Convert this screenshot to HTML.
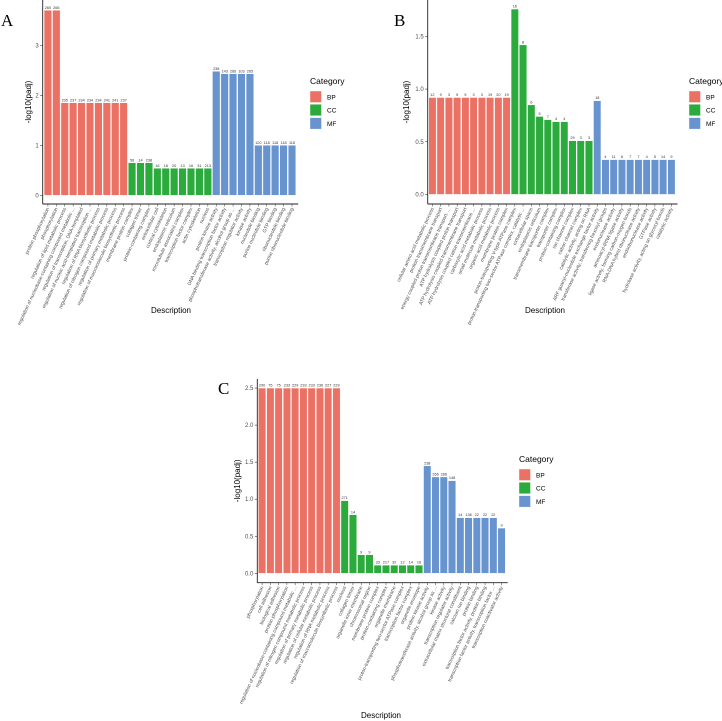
<!DOCTYPE html>
<html><head><meta charset="utf-8">
<style>
html,body{margin:0;padding:0;background:#fff;}
svg{display:block;font-family:"Liberation Sans",sans-serif;}
</style></head>
<body>
<svg id="fig" width="722" height="721" viewBox="0 0 722 721" xmlns="http://www.w3.org/2000/svg"></svg>
<script>
// ---------- Panel A data ----------
const aTerms = ["protein phosphorylation","phosphorylation","regulation of lipid metabolic process","regulation of nucleobase-containing compound metabolic ...","regulation of transcription, DNA-templated","regulation of nucleic acid-templated transcription ...","regulation of RNA biosynthetic process","regulation of nitrogen compound metabolic process","regulation of primary metabolic process","regulation of macromolecule biosynthetic process","membrane protein complex","collagen trimer","protein-containing complex","extracellular cell","cortical cytoskeleton","endoplasmic reticulum","microtubule associated complex","transcription factor complex","actin cytoskeleton","nucleus","protein kinase activity","DNA binding transcription factor activity","phosphotransferase activity, alcohol group as ...","transcription regulator activity","kinase activity","nucleotide binding","purine nucleotide binding","GTP binding","ribonucleotide binding","purine ribonucleotide binding"];
const aCats = ["BP","BP","BP","BP","BP","BP","BP","BP","BP","BP","CC","CC","CC","CC","CC","CC","CC","CC","CC","CC","MF","MF","MF","MF","MF","MF","MF","MF","MF","MF"];
const aValues = [3.7,3.7,1.85,1.85,1.85,1.85,1.85,1.85,1.85,1.85,0.65,0.65,0.65,0.54,0.54,0.54,0.54,0.54,0.54,0.54,2.48,2.43,2.43,2.43,2.43,1.0,1.0,1.0,1.0,1.0];
const aCounts = ["260","266","235","237","234","234","234","241","241","237","56","14","238","16","18","20","13","16","31","213","238","143","266","103","265","120","118","118","118","118"];
const aTicks = [0,1,2,3];

// ---------- Panel B data ----------
const bTerms = ["cellular amino acid metabolic process","protein transmembrane transport","energy coupled proton transmembrane transport, ...","ATP hydrolysis coupled proton transport","ATP hydrolysis coupled transmembrane transport","ATP hydrolysis coupled cation transmembrane ...","carboxylic acid metabolic process","small molecule metabolic process","organic acid metabolic process","membrane protein complex","proton-transporting V-type ATPase complex","proton-transporting two-sector ATPase complex, catalytic ...","extracellular space","endoplasmic reticulum","transmembrane transporter complex","transporter complex","protein-containing complex","ion channel complex","cation channel complex","catalytic activity, acting on RNA","ARF guanyl-nucleotide exchange factor activity","transferase activity, transferring hexosyl groups","endonuclease activity","aminoacyl-tRNA ligase activity","ligase activity, forming carbon-oxygen bonds","RNA-DNA hybrid ribonuclease activity","endoribonuclease activity","GTPase activity","hydrolase activity, acting on glycosyl bonds","catalytic activity"];
const bCats = ["BP","BP","BP","BP","BP","BP","BP","BP","BP","BP","CC","CC","CC","CC","CC","CC","CC","CC","CC","CC","MF","MF","MF","MF","MF","MF","MF","MF","MF","MF"];
const bValues = [0.92,0.92,0.92,0.92,0.92,0.92,0.92,0.92,0.92,0.92,1.76,1.42,0.85,0.74,0.71,0.69,0.69,0.51,0.51,0.51,0.89,0.33,0.33,0.33,0.33,0.33,0.33,0.33,0.33,0.33];
const bCounts = ["12","9","3","5","5","3","3","19","20","19","16","8","6","5","7","4","4","29","3","3","18","4","11","6","7","7","4","5","14","9"];
const bTicks = [0,0.5,1.0,1.5];

// ---------- Panel C data ----------
const cTerms = ["phosphorylation","cell adhesion","biological adhesion","protein phosphorylation","regulation of nucleobase-containing compound metabolic ...","regulation of nitrogen compound metabolic process","regulation of primary metabolic process","regulation of cellular metabolic process","regulation of RNA metabolic process","regulation of macromolecule biosynthetic process","nucleus","collagen trimer","organelle inner membrane","chromosomal region","membrane protein complex","protein-containing complex","organelle membrane","proton-transporting two-sector ATPase complex","transcription factor complex","organelle envelope","protein kinase activity","phosphotransferase activity, alcohol group as ...","kinase activity","transcription regulator activity","extracellular matrix structural constituent","calcium ion binding","protein binding","transcription factor activity, protein binding","transcription factor activity, transcription factor ...","transcription coactivator activity"];
const cCats = ["BP","BP","BP","BP","BP","BP","BP","BP","BP","BP","CC","CC","CC","CC","CC","CC","CC","CC","CC","CC","MF","MF","MF","MF","MF","MF","MF","MF","MF","MF"];
const cValues = [2.5,2.5,2.5,2.5,2.5,2.5,2.5,2.5,2.5,2.5,0.98,0.79,0.25,0.25,0.11,0.11,0.11,0.11,0.11,0.11,1.45,1.30,1.30,1.25,0.75,0.75,0.75,0.75,0.75,0.61];
const cCounts = ["290","75","75","233","229","233","233","236","227","229","271","14","9","9","33","217","32","12","14","16","238","266","266","148","14","136","22","22","22","9"];
const cTicks = [0,0.5,1.0,1.5,2.0,2.5];

const catNames = ["BP","CC","MF"];
const colors = {BP:"#ec7165", CC:"#2bab3c", MF:"#6793cf"};

const NS = "http://www.w3.org/2000/svg";
const svg = document.getElementById("fig");
function mk(tag, attrs, parent){
  const e = document.createElementNS(NS, tag);
  for (const k in attrs) e.setAttribute(k, attrs[k]);
  (parent||svg).appendChild(e);
  return e;
}

function panel(id, letter, terms, cats, values, counts, ticks, L){
  const g = mk("g", {});
  
  
  const y = v => L.zero - v * L.ppu;
  const n = values.length;
  const slot = (L.x1 - L.x0) / n;
  const xc = i => L.x0 + slot * (i + 0.5);

  const lt = mk("text", {x:L.letterX, y:L.letterY, "font-family":"Liberation Serif, serif", "font-size":17, fill:"#000"}, g);
  lt.textContent = letter;
  
  

  // bars
  for (let i = 0; i < n; i++){
    const top = y(values[i]);
    const r = mk("rect", {x:xc(i) - slot*0.45, y:top, width:slot*0.9, height:L.zero - top, fill:colors[cats[i]], stroke:"#fff", "stroke-width":0.4}, g);
    
    
    const t = mk("text", {x:xc(i), y:top - 1.5, "font-size":3.8, "text-anchor":"middle", fill:"#333"}, g);
    t.textContent = counts[i];
    
    
  }
  // axes
  const ya = mk("line", {x1:L.ax, y1:L.top, x2:L.ax, y2:L.bottom, stroke:"#222", "stroke-width":0.9}, g);
  
  
  const xa = mk("line", {x1:L.ax, y1:L.bottom, x2:L.x1 + 2, y2:L.bottom, stroke:"#222", "stroke-width":0.9}, g);
  
  
  // y ticks
  for (const tv of ticks){
    mk("line", {x1:L.ax - 2.5, y1:y(tv), x2:L.ax, y2:y(tv), stroke:"#333", "stroke-width":0.6}, g);
    const t = mk("text", {x:L.ax - 4, y:y(tv) + 2, "font-size":6, "text-anchor":"end", fill:"#4d4d4d"}, g);
    t.textContent = L.dec ? tv.toFixed(1) : String(tv);
    
    
  }
  // x ticks + labels
  for (let i = 0; i < n; i++){
    mk("line", {x1:xc(i), y1:L.bottom, x2:xc(i), y2:L.bottom + 2.5, stroke:"#333", "stroke-width":0.5}, g);
    const t = mk("text", {"font-size":4.9, "text-anchor":"end", fill:"#4d4d4d",
      transform:"translate(" + (xc(i) + 1.5) + "," + (L.bottom + 4.5) + ") rotate(-65)"}, g);
    t.textContent = terms[i];
    
    
  }
  // titles
  const yt = mk("text", {"font-size":8, "text-anchor":"middle", fill:"#000",
    transform:"translate(" + L.ytX + "," + ((L.top + L.bottom)/2) + ") rotate(-90)"}, g);
  yt.textContent = "-log10(padj)";
  
  
  const xt = mk("text", {x:L.descX, y:L.descY, "font-size":8, "text-anchor":"middle", fill:"#000"}, g);
  xt.textContent = "Description";
  
  
  // legend
  const lg = mk("g", {}, g);
  
  
  const lt2 = mk("text", {x:L.legX, y:L.legY, "font-size":8.5, fill:"#000"}, lg);
  lt2.textContent = "Category";
  catNames.forEach((c, k) => {
    const by = L.legY + 7 + k * 13.3;
    const r = mk("rect", {x:L.legX, y:by, width:11.5, height:11.5, fill:colors[c], stroke:"#fff", "stroke-width":0.4}, lg);
    
    
    const t = mk("text", {x:L.legX + 17, y:by + 8.3, "font-size":6.5, fill:"#000"}, lg);
    t.textContent = c;
    
    
  });
}

panel("a", "A", aTerms, aCats, aValues, aCounts, aTicks,
  {x0:43.7, x1:296.2, ax:42.7, zero:195.3, ppu:50, top:0, bottom:204, dec:false,
   letterX:1, letterY:26, ytX:31, descX:171, descY:313, legX:310, legY:84});
panel("b", "B", bTerms, bCats, bValues, bCounts, bTicks,
  {x0:428.3, x1:675.5, ax:427.7, zero:194.4, ppu:105.3, top:0, bottom:204, dec:true,
   letterX:394, letterY:26, ytX:409, descX:545, descY:313, legX:689, legY:84});
panel("c", "C", cTerms, cCats, cValues, cCounts, cTicks,
  {x0:258, x1:505.7, ax:257.3, zero:573.3, ppu:74.1, top:379, bottom:582.7, dec:true,
   letterX:218, letterY:394, ytX:240, descX:381, descY:718, legX:519, legY:462});
</script>
</body></html>
